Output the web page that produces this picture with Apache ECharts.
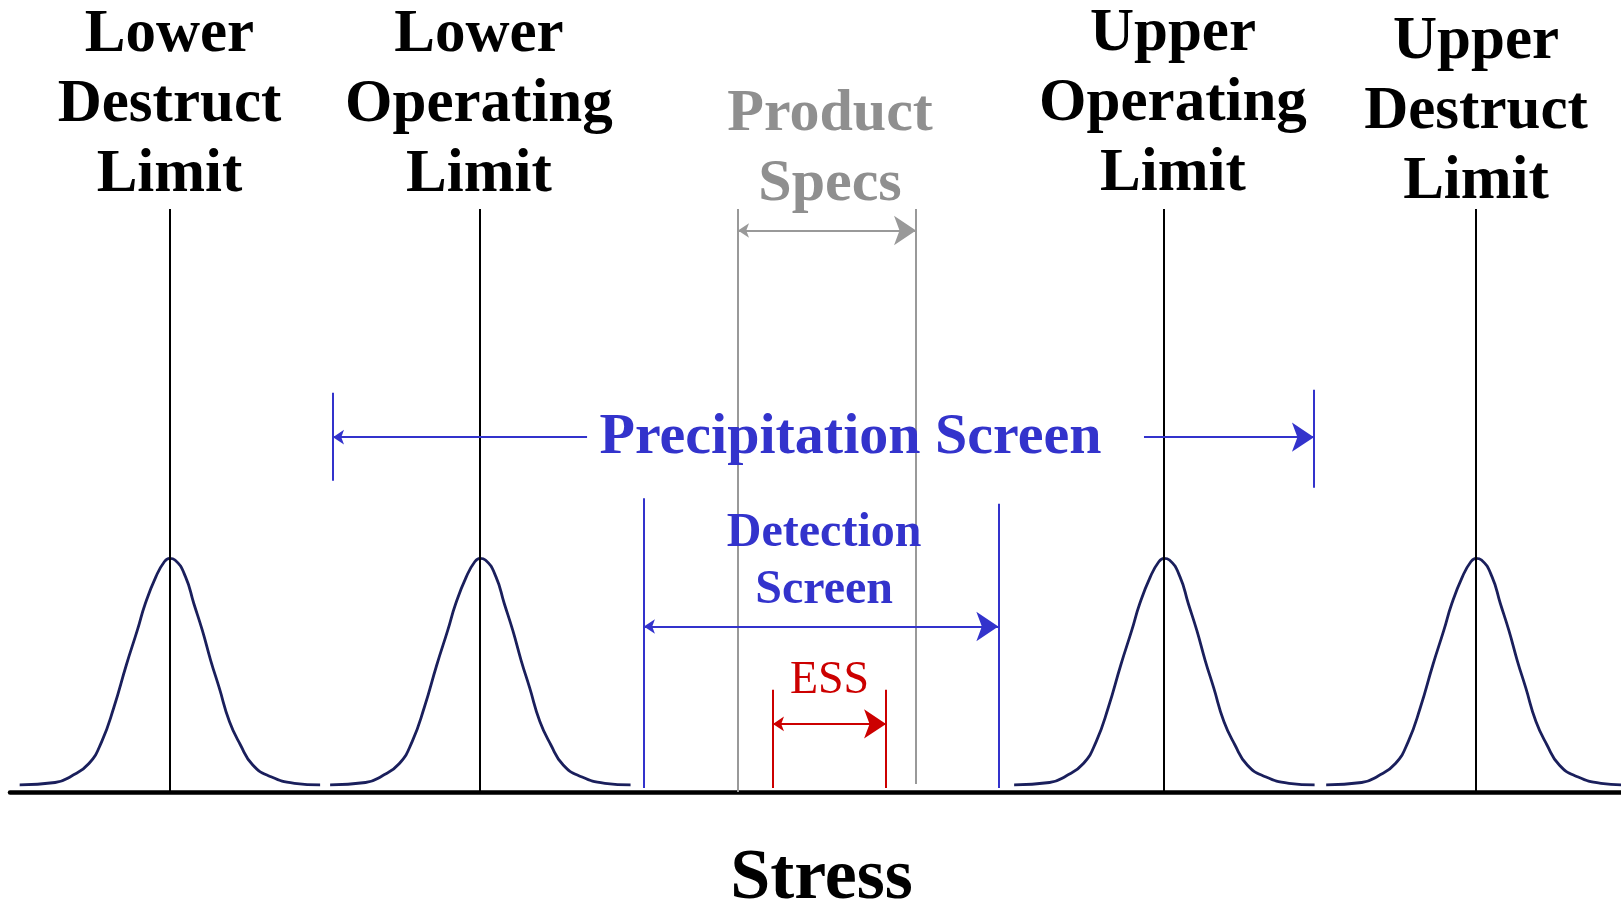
<!DOCTYPE html>
<html>
<head>
<meta charset="utf-8">
<script src="https://cdn.jsdelivr.net/npm/echarts@6/dist/echarts.min.js"></script>
<style>
html, body { margin: 0; padding: 0; background: #fff; }
#main { width: 1621px; height: 902px; }
</style>
</head>
<body>
<div id="main"></div>
<script>
// stress scale 0..100 across the width, height scale 0..100 above the axis
var limitNames = ['Lower\nDestruct\nLimit', 'Lower\nOperating\nLimit', 'Upper\nOperating\nLimit', 'Upper\nDestruct\nLimit'];
var limitCenters = [9.9, 29.17, 71.63, 91.0];
var limitTop = 73.6;

// one bell profile, reused at each limit
var bellOffsets = [-9.3, -7.1, -6.1, -5.0, -4.2, -3.45, -2.67, -2.0, -1.5, -0.84, -0.31, 0, 0.34, 0.99, 1.51, 2.04, 2.56, 3.08, 3.72, 4.39, 5.17, 6.21, 7.76, 9.35];
var bellHeights = [0.9, 1.2, 2.0, 3.6, 6.4, 10.7, 16.1, 20.4, 23.8, 27.2, 29.1, 29.5, 29.3, 27.2, 23.8, 20.4, 16.6, 13.2, 8.9, 6.0, 3.4, 2.0, 1.1, 0.9];

var specLimits = [45.19, 56.24];
var precipLimits = [20.05, 80.94];
var detectLimits = [39.35, 61.35];
var essLimits = [47.36, 54.38];

var myChart = echarts.init(document.getElementById('main'));

var FONT = '"Liberation Serif", "Times New Roman", serif';
var BLUE = '#3333cc';
var RED = '#cc0000';
var GRAY = '#999999';
var NAVY = '#1a1f5c';

function seg(x1, y1, x2, y2) {
    return { coords: [[x1, y1], [x2, y2]] };
}

function linesSeries(data, color, width, symbol) {
    return {
        type: 'lines',
        coordinateSystem: 'cartesian2d',
        data: data,
        symbol: symbol || ['none', 'none'],
        symbolSize: [11, 22],
        lineStyle: { color: color, width: width, opacity: 1, curveness: 0 },
        silent: true,
        z: 3
    };
}

function textItem(x, y, text, style, dx, dy) {
    return {
        value: [x, y],
        label: Object.assign({
            show: true,
            position: 'inside',
            offset: [dx || 0, dy || 0],
            formatter: text,
            fontFamily: FONT,
            opacity: 1,
            align: 'center',
            verticalAlign: 'middle'
        }, style)
    };
}

var series = [];

// vertical limit lines
series.push(linesSeries(limitCenters.map(function (c) {
    return seg(c, 0, c, limitTop);
}), '#000', 2));

// bell curves
for (var i = 0; i < limitCenters.length; i++) {
    var pts = [];
    for (var j = 0; j < bellOffsets.length; j++) {
        pts.push([limitCenters[i] + bellOffsets[j], bellHeights[j]]);
    }
    series.push({
        type: 'line',
        data: pts,
        smooth: 0.5,
        showSymbol: false,
        symbol: 'none',
        lineStyle: { color: NAVY, width: 2.8 },
        silent: true,
        z: 2
    });
}

// product specs
series.push(linesSeries([
    seg(specLimits[0], 0, specLimits[0], 38.6),
    seg(specLimits[0], 37.0, specLimits[0], limitTop),
    seg(specLimits[1], 1.0, specLimits[1], 38.6),
    seg(specLimits[1], 37.0, specLimits[1], limitTop)
], GRAY, 2));
series.push(linesSeries([seg(specLimits[0], 70.9, specLimits[1], 70.9)], GRAY, 2, ['arrow', 'arrow']));

// precipitation screen
series.push(linesSeries([
    seg(precipLimits[0], 39.3, precipLimits[0], 50.4),
    seg(precipLimits[1], 38.4, precipLimits[1], 50.8)
], BLUE, 2));
series.push(linesSeries([seg(precipLimits[0], 44.8, 35.82, 44.8)], BLUE, 2, ['arrow', 'none']));
series.push(linesSeries([seg(70.39, 44.8, precipLimits[1], 44.8)], BLUE, 2, ['none', 'arrow']));

// detection screen
series.push(linesSeries([
    seg(detectLimits[0], 0.5, detectLimits[0], 37.1),
    seg(detectLimits[1], 0.5, detectLimits[1], 36.4)
], BLUE, 2));
series.push(linesSeries([seg(detectLimits[0], 20.9, detectLimits[1], 20.9)], BLUE, 2, ['arrow', 'arrow']));

// ESS
series.push(linesSeries([
    seg(essLimits[0], 0.5, essLimits[0], 12.9),
    seg(essLimits[1], 0.5, essLimits[1], 12.9)
], RED, 2));
series.push(linesSeries([seg(essLimits[0], 8.6, essLimits[1], 8.6)], RED, 2, ['arrow', 'arrow']));

// texts
var limitStyle = { fontSize: 61, fontWeight: 'bold', color: '#000', lineHeight: 70 };
var texts = [
    textItem(limitCenters[0], limitTop, limitNames[0], limitStyle, 0, -104),
    textItem(limitCenters[1], limitTop, limitNames[1], limitStyle, -1, -104),
    textItem(limitCenters[2], limitTop, limitNames[2], limitStyle, 9, -105),
    textItem(limitCenters[3], limitTop, limitNames[3], limitStyle, 0, -96.5),
    textItem((specLimits[0] + specLimits[1]) / 2, limitTop, 'Product\nSpecs',
        { fontSize: 60, fontWeight: 'bold', color: '#8f8f8f', lineHeight: 70 }, 3, -60),
    textItem((precipLimits[0] + precipLimits[1]) / 2, 44.8, 'Precipitation Screen',
        { fontSize: 58, fontWeight: 'bold', color: BLUE }, 27, 1),
    textItem((detectLimits[0] + detectLimits[1]) / 2, 20.9, 'Detection\nScreen',
        { fontSize: 48, fontWeight: 'bold', color: BLUE, lineHeight: 57 }, 3, -64),
    textItem((essLimits[0] + essLimits[1]) / 2, 8.6, 'ESS',
        { fontSize: 46, fontWeight: 'normal', color: RED }, 0, -43)
];
series.push({
    type: 'scatter',
    data: texts,
    symbolSize: 1,
    itemStyle: { color: 'rgba(0,0,0,0)', opacity: 1 },
    silent: true,
    clip: false,
    z: 5
});

var option = {
    animation: false,
    backgroundColor: '#fff',
    grid: { left: 10, right: 0, top: 0, bottom: 110, outerBoundsMode: 'none' },
    xAxis: {
        type: 'value',
        min: 0,
        max: 100,
        name: 'Stress',
        nameLocation: 'middle',
        nameGap: 51,
        nameTextStyle: { fontFamily: FONT, fontSize: 72, fontWeight: 'bold', color: '#000', padding: [0, 0, 0, 12] },
        axisLine: { show: true, lineStyle: { color: '#000', width: 4.5 } },
        axisTick: { show: false },
        axisLabel: { show: false },
        splitLine: { show: false }
    },
    yAxis: {
        type: 'value',
        min: 0,
        max: 100,
        show: false,
        splitLine: { show: false }
    },
    series: series
};

myChart.setOption(option);
</script>
</body>
</html>
